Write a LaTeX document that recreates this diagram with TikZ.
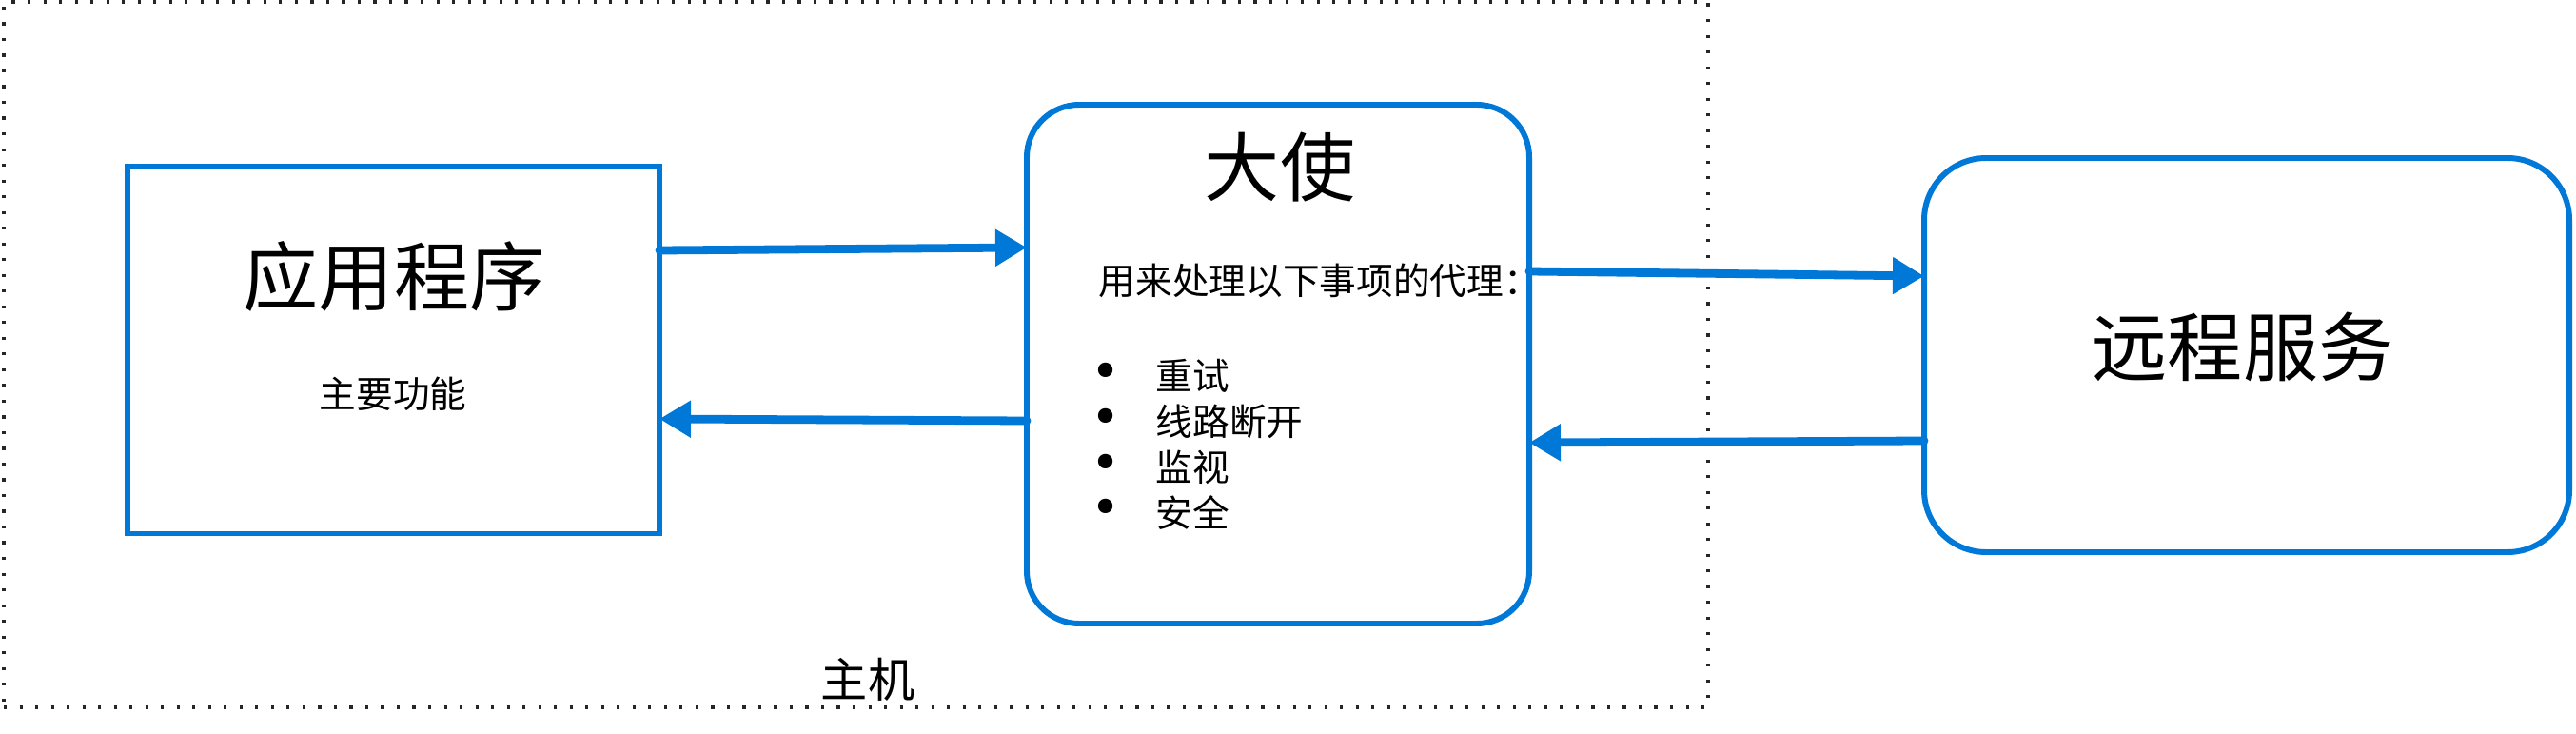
\documentclass[tikz,border=0pt]{standalone}
\usepackage{fontspec}
\setmainfont{Noto Sans CJK SC}
\newfontfamily\symfont{DejaVu Sans}
\usepackage{tikz}
\usetikzlibrary{arrows.meta}
\usetikzlibrary{positioning}
\definecolor{azblue}{RGB}{0,120,215}
\tikzset{every picture/.style={line width=1.6pt}}
\begin{document}
\begin{tikzpicture}[box/.style={draw=azblue,line width=1.7pt,outer sep=0pt,inner sep=0pt},
 host/.style={draw=black!85,line width=0.9pt,dash pattern=on 0.9pt off 3.8pt,outer sep=0pt,inner sep=0pt},
 link/.style={draw=azblue,line width=2.5pt,line cap=round,-{Triangle[length=0.33cm,width=0.37cm]}},
 title/.style={inner sep=0pt,font=\fontsize{22.5}{27}\selectfont},
 small/.style={inner sep=0pt,font=\fontsize{11}{13.5}\selectfont}]
\useasboundingbox (0,0) rectangle (27.07,-7.71);
\node[host,minimum width=17.91cm,minimum height=7.41cm] (host) at (8.995,-3.725) {};
\node[small,font=\fontsize{14}{16}\selectfont] (hostlabel) at (9.12,-7.14) {主机};
% boxes
\node[box,minimum width=5.59cm,minimum height=3.86cm] (app) at (4.135,-3.675) {};
\node[box,rounded corners=0.55cm,minimum width=5.28cm,minimum height=5.45cm] (amb) at (13.43,-3.825) {};
\node[box,rounded corners=0.65cm,minimum width=6.78cm,minimum height=4.14cm] (remote) at (23.61,-3.73) {};
% texts
\node[title] (apptitle) at (4.14,-2.90) {应用程序};
\node[small] (appsub) at (4.13,-4.14) {主要功能};
\node[title] (ambtitle) at (13.45,-1.76) {大使};
\node[small,anchor=west] (ambtext) at (11.52,-2.95) {用来处理以下事项的代理：};
\foreach \item [count=\i] in {重试,线路断开,监视,安全}{
\node[inner sep=0pt,font=\symfont\fontsize{15}{16}\selectfont] (dot\i) at (11.62,-3.95-0.477*\i+0.477) {•};
\node[small,anchor=west] (item\i) at (12.12,-3.95-0.477*\i+0.477) {\item};
}
\node[title] (remotetitle) at (23.57,-3.64) {远程服务};
% links
\draw[link] ([yshift=1.045cm]app.east) -- ([yshift=1.225cm]amb.west);
\draw[link] ([yshift=-0.595cm]amb.west) -- ([yshift=-0.725cm]app.east);
\draw[link] ([yshift=0.975cm]amb.east) -- ([yshift=0.83cm]remote.west);
\draw[link] ([yshift=-0.90cm]remote.west) -- ([yshift=-0.825cm]amb.east);
\end{tikzpicture}
\end{document}
